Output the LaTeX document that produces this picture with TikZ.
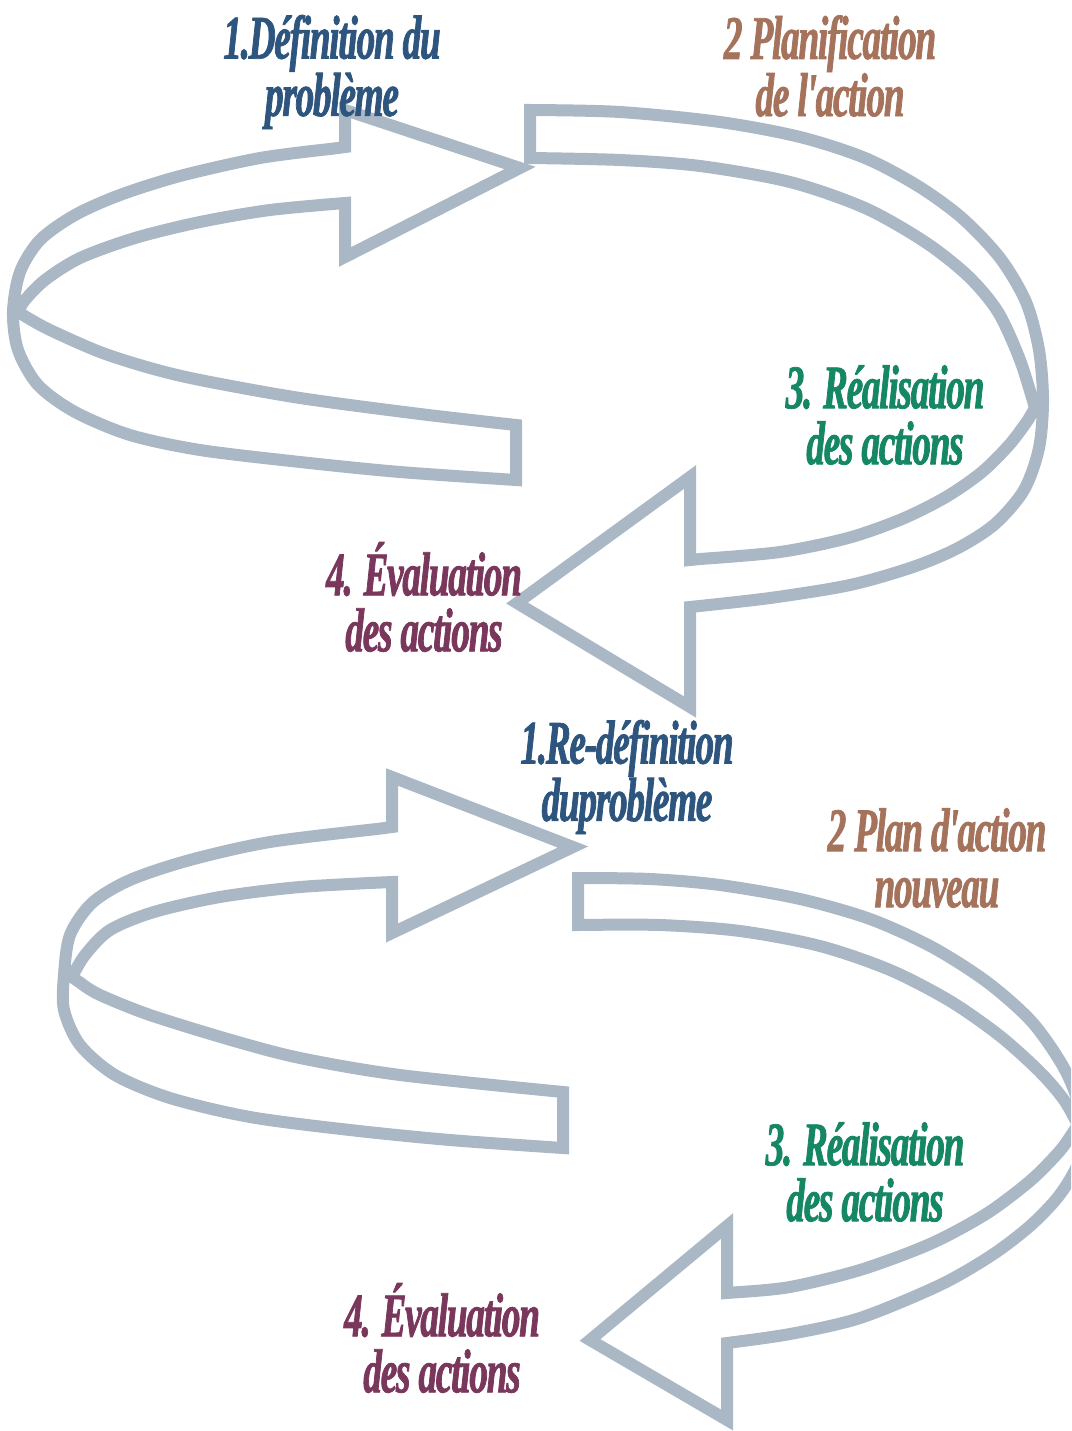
\documentclass[tikz,border=0pt]{standalone}
\usepackage{fontspec}
\newfontfamily\lblfont[FakeStretch=0.6,FakeBold=1.2,LetterSpace=-2]{Liberation Serif}
\definecolor{ribc}{RGB}{170,184,198}
\definecolor{cblue}{RGB}{45,85,125}
\definecolor{cbrown}{RGB}{165,115,92}
\definecolor{cgreen}{RGB}{22,135,100}
\definecolor{cpurple}{RGB}{122,55,92}
\begin{document}
\begin{tikzpicture}[x=1pt,y=-1pt,
  rib/.style={draw=ribc, line width=12pt, line join=miter},
  lbl/.style={align=center, inner sep=0pt,
    font={\lblfont\bfseries\itshape\fontsize{62}{56}\selectfont}}]
\useasboundingbox (0,0) rectangle (1071,1431);
\fill[white] (0,0) rectangle (1071,1431);
\begin{scope}
\clip (0,0) rectangle (1071,1431);
% top spiral, back loop with arrowhead 1
\draw[rib] (345,147) -- (345,110) -- (520,168) -- (345,257)
 -- plot[smooth] coordinates {(345,203) (270,210) (200,222) (135,238) (80,258) (45,280) (25,300) (18,312)}
 -- plot[smooth] coordinates {(28,318) (50,330) (100,352) (150,368) (200,380) (300,398) (420,414) (516,425)}
 -- plot[smooth] coordinates {(516,480) (400,472) (300,462) (200,450) (130,435) (75,412) (38,385) (18,350) (13,312) (20,272) (40,240) (75,215) (120,195) (180,176) (260,158) (330,149)}
 -- cycle;
% top spiral, front loop with arrowhead 2
\draw[rib] (690,560) -- (690,477) -- (517,603) -- (690,707)
 -- plot[smooth] coordinates {(690,607) (770,598) (850,585) (913,567) (958,548) (995,524) (1024,490) (1039,448) (1043,400) (1039,350) (1026,302) (1000,258) (962,218) (918,186) (865,158) (800,137) (720,122) (620,112) (530,110)}
 -- plot[smooth] coordinates {(530,158) (620,160) (700,166) (790,182) (865,208) (925,242) (968,276) (998,312) (1020,360) (1035,408)}
 -- plot[smooth] coordinates {(1028,420) (1010,444) (982,472) (946,497) (902,519) (848,538) (780,552) (700,559)}
 -- cycle;
% bottom spiral, back loop with arrowhead 3
\draw[rib] (392,827) -- (392,777) -- (573,847) -- (392,933)
 -- plot[smooth] coordinates {(392,882) (300,887) (220,897) (154,912) (110,930) (85,955) (72,977)}
 -- plot[smooth] coordinates {(82,984) (100,995) (150,1015) (231,1040) (300,1058) (400,1075) (563,1092)}
 -- plot[smooth] coordinates {(563,1148) (450,1140) (350,1130) (250,1117) (170,1098) (115,1075) (80,1045) (64,1010) (64,975) (70,935) (92,903) (130,880) (190,860) (270,842) (377,829)}
 -- cycle;
% bottom spiral, front loop with arrowhead 4
\draw[rib] (727,1293) -- (727,1226) -- (590,1340) -- (727,1420)
 -- plot[smooth] coordinates {(727,1343) (790,1334) (860,1318) (940,1285) (992,1255) (1030,1226) (1058,1197) (1076,1168) (1083,1140) (1080,1108) (1064,1068) (1032,1022) (987,982) (932,947) (870,919) (800,899) (720,885) (650,879) (578,878)}
 -- plot[smooth] coordinates {(578,925) (660,925) (740,931) (820,946) (890,970) (950,1001) (1000,1036) (1040,1072) (1064,1100) (1078,1125)}
 -- plot[smooth] coordinates {(1070,1137) (1058,1153) (1030,1181) (986,1214) (930,1244) (860,1270) (790,1287) (740,1292)}
 -- cycle;
\end{scope}
% labels, top spiral
\node[lbl, text=cblue]   (def1)  at (332,72)   {1.Définition du\\problème};
\node[lbl, text=cbrown]  (plan1) at (830,66)   {2 Planification\\de l'action};
\node[lbl, text=cgreen]  (real1) at (885,415)  {3. Réalisation\\des actions};
\node[lbl, text=cpurple] (eval1) at (424,597)  {4. Évaluation\\des actions};
% labels, bottom spiral
\node[lbl, text=cblue]   (def2)  at (627,777)  {1.Re-définition\\duproblème};
\node[lbl, text=cbrown]  (plan2) at (937,858)  {2 Plan d'action\\nouveau};
\node[lbl, text=cgreen]  (real2) at (865,1172) {3. Réalisation\\des actions};
\node[lbl, text=cpurple] (eval2) at (442,1338) {4. Évaluation\\des actions};
\end{tikzpicture}
\end{document}
